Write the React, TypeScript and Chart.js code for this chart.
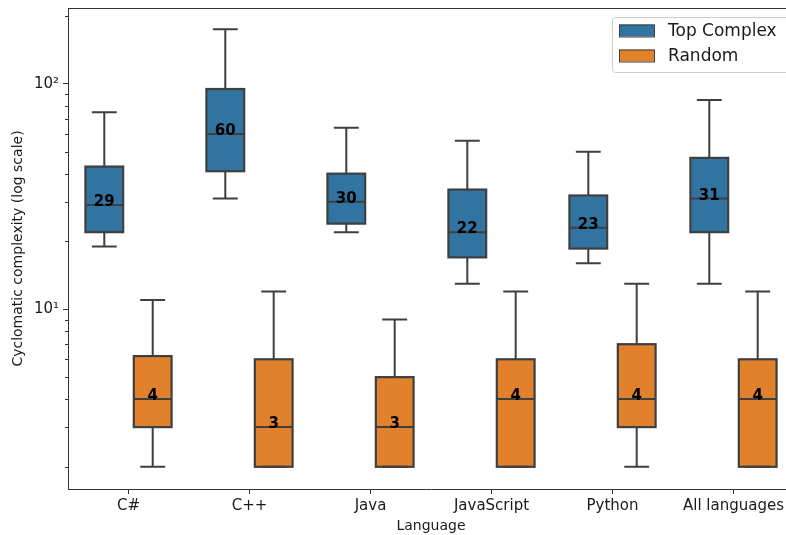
import React, { useEffect, useRef } from 'react';
import { Chart, registerables } from 'chart.js';

Chart.register(...registerables);

const categories = ['C#', 'C++', 'Java', 'JavaScript', 'Python', 'All languages'];
const seriesLabels = ['Top Complex', 'Random'];
const seriesColors = ['#3274a1', '#e1812c'];

const topWhiskerLow = [19, 31, 22, 13, 16, 13];
const topQ1 = [22, 41, 24, 17, 18.6, 22];
const topMedian = [29, 60, 30, 22, 23, 31];
const topQ3 = [43, 95, 40, 34, 32, 47];
const topWhiskerHigh = [75, 175, 64, 56, 50, 85];

const randWhiskerLow = [2, 2, 2, 2, 2, 2];
const randQ1 = [3, 2, 2, 2, 3, 2];
const randMedian = [4, 3, 3, 4, 4, 4];
const randQ3 = [6.2, 6, 5, 6, 7, 6];
const randWhiskerHigh = [11, 12, 9, 12, 13, 12];

const yMajorTicks = [10, 100];
const yMajorLabels = ['10¹', '10²'];
const yMinorTicks = [2, 3, 4, 5, 6, 7, 8, 9, 20, 30, 40, 50, 60, 70, 80, 90, 200];

const stats = [
  { low: topWhiskerLow, q1: topQ1, med: topMedian, q3: topQ3, high: topWhiskerHigh },
  { low: randWhiskerLow, q1: randQ1, med: randMedian, q3: randQ3, high: randWhiskerHigh },
];

const EDGE = '#3f3f3f';
const AXIS = '#333333';

const boxPlugin = {
  id: 'boxExtras',
  afterDatasetsDraw(chart: any) {
    const ctx = chart.ctx;
    const ys = chart.scales.y;
    ctx.save();
    chart.data.datasets.forEach((_ds: any, di: number) => {
      const meta = chart.getDatasetMeta(di);
      const s = stats[di];
      meta.data.forEach((bar: any, i: number) => {
        const { x, width } = bar.getProps(['x', 'width'], true);
        const pLow = ys.getPixelForValue(s.low[i]);
        const pQ1 = ys.getPixelForValue(s.q1[i]);
        const pMed = ys.getPixelForValue(s.med[i]);
        const pQ3 = ys.getPixelForValue(s.q3[i]);
        const pHigh = ys.getPixelForValue(s.high[i]);
        const capHalf = (width * 0.66) / 2;
        ctx.strokeStyle = EDGE;
        ctx.lineWidth = 2;
        ctx.beginPath();
        ctx.moveTo(x, pQ3);
        ctx.lineTo(x, pHigh);
        ctx.moveTo(x - capHalf, pHigh);
        ctx.lineTo(x + capHalf, pHigh);
        ctx.moveTo(x, pQ1);
        ctx.lineTo(x, pLow);
        ctx.moveTo(x - capHalf, pLow);
        ctx.lineTo(x + capHalf, pLow);
        ctx.moveTo(x - width / 2, pMed);
        ctx.lineTo(x + width / 2, pMed);
        ctx.stroke();
        ctx.lineWidth = 2.2;
        ctx.strokeRect(x - width / 2, pQ3, width, pQ1 - pQ3);
        ctx.fillStyle = '#000';
        ctx.font = 'bold 15px "DejaVu Sans"';
        ctx.textAlign = 'center';
        ctx.textBaseline = 'alphabetic';
        ctx.fillText(String(s.med[i]), x, pMed + 1);
      });
    });
    ctx.restore();
  },
  afterDraw(chart: any) {
    const ctx = chart.ctx;
    const a = chart.chartArea;
    const ys = chart.scales.y;
    ctx.save();
    ctx.strokeStyle = AXIS;
    ctx.lineWidth = 1;
    ctx.beginPath();
    ctx.moveTo(a.left, a.top + 0.5);
    ctx.lineTo(a.right, a.top + 0.5);
    ctx.moveTo(a.right - 0.5, a.top);
    ctx.lineTo(a.right - 0.5, a.bottom);
    ctx.stroke();
    ctx.beginPath();
    yMinorTicks.forEach((v) => {
      const py = ys.getPixelForValue(v);
      if (py < a.top || py > a.bottom) return;
      ctx.moveTo(a.left - 3, Math.round(py) + 0.5);
      ctx.lineTo(a.left, Math.round(py) + 0.5);
    });
    ctx.stroke();
    const lx = a.right - 182;
    const ly = a.top + 9;
    ctx.beginPath();
    ctx.roundRect(lx + 0.5, ly + 0.5, 178, 55, 3);
    ctx.fillStyle = 'rgba(255,255,255,0.8)';
    ctx.fill();
    ctx.strokeStyle = '#cccccc';
    ctx.stroke();
    seriesLabels.forEach((lab, k) => {
      const cy = ly + 13.5 + k * 25;
      ctx.fillStyle = seriesColors[k];
      ctx.fillRect(lx + 7, cy - 6, 35, 12);
      ctx.strokeStyle = EDGE;
      ctx.lineWidth = 1;
      ctx.strokeRect(lx + 7.5, cy - 5.5, 35, 12);
      ctx.fillStyle = '#1a1a1a';
      ctx.font = '17px "DejaVu Sans"';
      ctx.textAlign = 'left';
      ctx.textBaseline = 'middle';
      ctx.fillText(lab, lx + 56, cy + 1);
    });
    ctx.restore();
  },
};

export default function App() {
  const ref = useRef<HTMLCanvasElement>(null);
  useEffect(() => {
    if (!ref.current) return;
    Chart.defaults.font.family = '"DejaVu Sans"';
    const chart = new Chart(ref.current, {
      type: 'bar',
      data: {
        labels: categories,
        datasets: stats.map((s, k) => ({
          label: seriesLabels[k],
          data: s.q1.map((q, i) => [q, s.q3[i]]),
          backgroundColor: seriesColors[k],
          borderWidth: 0,
          categoryPercentage: 0.8,
          barPercentage: 0.78,
        })),
      },
      options: {
        animation: false,
        responsive: false,
        events: [],
        layout: { padding: { top: 8, right: 6, left: 0, bottom: 0 } },
        plugins: { legend: { display: false }, tooltip: { enabled: false } },
        scales: {
          x: {
            type: 'category',
            offset: true,
            grid: { display: true, offset: false, drawOnChartArea: false, drawTicks: true, tickLength: 5, color: AXIS },
            border: { display: true, color: AXIS, width: 1 },
            ticks: { color: '#1a1a1a', font: { size: 15 }, padding: 3, maxRotation: 0, autoSkip: false },
            title: { display: true, text: 'Language', color: '#1a1a1a', font: { size: 14 }, padding: { top: 0, bottom: 0 } },
            afterFit: (scale: any) => {
              scale.height = 46;
              scale.paddingLeft = 0;
              scale.paddingRight = 0;
            },
          },
          y: {
            type: 'logarithmic',
            min: 1.594,
            max: 217.4,
            grid: { display: true, drawOnChartArea: false, drawTicks: true, tickLength: 5, color: AXIS },
            border: { display: true, color: AXIS, width: 1 },
            afterBuildTicks: (scale: any) => {
              scale.ticks = yMajorTicks.map((v) => ({ value: v }));
            },
            ticks: {
              color: '#1a1a1a',
              font: { size: 15 },
              padding: 4,
              callback: (v: any) => {
                const idx = yMajorTicks.indexOf(Number(v));
                return idx >= 0 ? yMajorLabels[idx] : '';
              },
            },
            title: { display: true, text: 'Cyclomatic complexity (log scale)', color: '#1a1a1a', font: { size: 14 }, padding: { top: 10, bottom: 0 } },
            afterFit: (scale: any) => {
              scale.width = 68;
              scale.paddingTop = 0;
              scale.paddingBottom = 0;
            },
          },
        },
      },
      plugins: [boxPlugin],
    } as any);
    return () => chart.destroy();
  }, []);
  return (
    <div style={{ position: 'fixed', left: 0, top: 0, width: 786, height: 535, overflow: 'hidden', background: '#fff' }}>
      <canvas ref={ref} width={800} height={535} style={{ display: 'block', width: 800, height: 535 }} />
    </div>
  );
}
